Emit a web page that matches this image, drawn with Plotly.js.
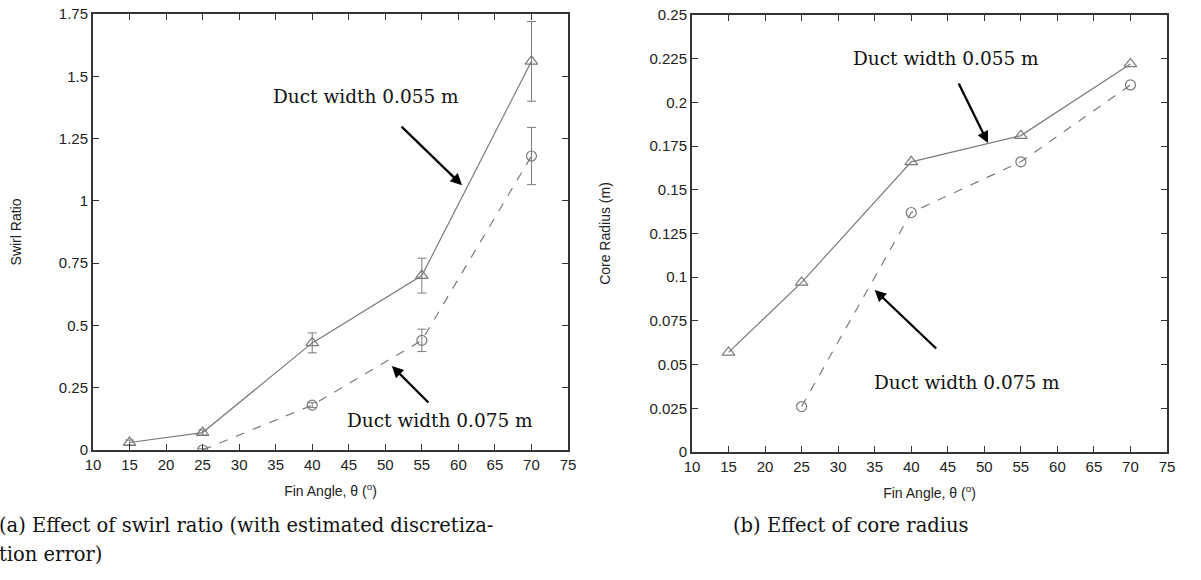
<!DOCTYPE html>
<html>
<head>
<meta charset="utf-8">
<script src="https://cdn.plot.ly/plotly-3.0.1.min.js"></script>
<style>html,body{margin:0;padding:0;background:#fff;}#chart{width:1201px;height:580px;}</style>
</head>
<body>
<div id="chart"></div>
<script>
// ---- data ----
const finAngle055 = [15, 25, 40, 55, 70];
const finAngle075 = [25, 40, 55, 70];
const swirl055 = [0.03, 0.07, 0.43, 0.70, 1.56];
const swirlErr055 = [0.01, 0.01, 0.04, 0.07, 0.16];
const swirl075 = [0.0, 0.18, 0.44, 1.18];
const swirlErr075 = [0.005, 0.01, 0.045, 0.115];
const core055 = [0.057, 0.097, 0.166, 0.181, 0.222];
const core075 = [0.026, 0.137, 0.166, 0.210];
const label055 = 'Duct width 0.055 m';
const label075 = 'Duct width 0.075 m';
const captionA1 = '(a) Effect of swirl ratio (with estimated discretiza-';
const captionA2 = 'tion error)';
const captionB = '(b) Effect of core radius';
const xTitle = 'Fin Angle, θ (<sup>o</sup>)';
const yTitleA = 'Swirl Ratio';
const yTitleB = 'Core Radius (m)';

const W = 1201, H = 580;
const px = v => v / W;
const py = v => (H - v) / H;
const lineCol = '#7a7a7a';

const traces = [
  {x: finAngle055, y: swirl055, xaxis: 'x', yaxis: 'y', mode: 'lines+markers',
   line: {color: lineCol, width: 1.2},
   marker: {symbol: 'triangle-up-open', size: 11, color: lineCol, line: {width: 1.2}},
   error_y: {type: 'data', array: swirlErr055, visible: true, color: lineCol, thickness: 1, width: 4.5}},
  {x: finAngle075, y: swirl075, xaxis: 'x', yaxis: 'y', mode: 'lines+markers',
   line: {color: lineCol, width: 1.2, dash: 'dash'},
   marker: {symbol: 'circle-open', size: 10, color: lineCol, line: {width: 1.2}},
   error_y: {type: 'data', array: swirlErr075, visible: true, color: lineCol, thickness: 1, width: 4.5}},
  {x: finAngle055, y: core055, xaxis: 'x2', yaxis: 'y2', mode: 'lines+markers',
   line: {color: lineCol, width: 1.2},
   marker: {symbol: 'triangle-up-open', size: 11, color: lineCol, line: {width: 1.2}}},
  {x: finAngle075, y: core075, xaxis: 'x2', yaxis: 'y2', mode: 'lines+markers',
   line: {color: lineCol, width: 1.2, dash: 'dash'},
   marker: {symbol: 'circle-open', size: 10, color: lineCol, line: {width: 1.2}}}
];

const axisCommon = {
  showline: true, linecolor: '#333', linewidth: 2, mirror: 'allticks',
  ticks: 'inside', ticklen: 6, tickcolor: '#333', tickwidth: 1,
  showgrid: false, zeroline: false,
  tickfont: {family: 'Liberation Sans, Arial, sans-serif', size: 15, color: '#222'}
};
const titleFont = {family: 'Liberation Sans, Arial, sans-serif', size: 14, color: '#222'};

const serif = 'DejaVu Serif, serif';
const annFont = {family: serif, size: 18.5, color: '#111'};
const capFont = {family: serif, size: 19.5, color: '#111'};
const arrowStyle = {showarrow: true, arrowhead: 2, arrowsize: 1, arrowwidth: 2.3, arrowcolor: '#000', text: ''};

const annotations = [
  // left plot labels
  {xref: 'x', yref: 'y', x: 47.3, y: 1.42, text: label055, showarrow: false, font: annFont, xanchor: 'center'},
  Object.assign({xref: 'x', yref: 'y', x: 60.5, y: 1.063, ax: -62, ay: -60}, arrowStyle),
  {xref: 'x', yref: 'y', x: 57.5, y: 0.12, text: label075, showarrow: false, font: annFont, xanchor: 'center'},
  Object.assign({xref: 'x', yref: 'y', x: 50.9, y: 0.337, ax: 38, ay: 38}, arrowStyle),
  // right plot labels
  {xref: 'x2', yref: 'y2', x: 44.8, y: 0.2254, text: label055, showarrow: false, font: annFont, xanchor: 'center'},
  Object.assign({xref: 'x2', yref: 'y2', x: 50.5, y: 0.1768, ax: -30, ay: -61}, arrowStyle),
  {xref: 'x2', yref: 'y2', x: 47.6, y: 0.040, text: label075, showarrow: false, font: annFont, xanchor: 'center'},
  Object.assign({xref: 'x2', yref: 'y2', x: 35.0, y: 0.0927, ax: 63, ay: 60}, arrowStyle),
  // captions
  {xref: 'paper', yref: 'paper', x: px(-3), y: py(525), xanchor: 'left', yanchor: 'middle', text: captionA1, showarrow: false, font: capFont},
  {xref: 'paper', yref: 'paper', x: px(-3), y: py(554), xanchor: 'left', yanchor: 'middle', text: captionA2, showarrow: false, font: capFont},
  {xref: 'paper', yref: 'paper', x: px(851), y: py(525), xanchor: 'center', yanchor: 'middle', text: captionB, showarrow: false, font: capFont}
];

const layout = {
  width: W, height: H,
  margin: {l: 0, r: 0, t: 0, b: 0},
  paper_bgcolor: '#fff', plot_bgcolor: '#fff',
  showlegend: false,
  xaxis: Object.assign({}, axisCommon, {domain: [px(93), px(568)], range: [10, 75], dtick: 5, tick0: 10,
    title: {text: xTitle, font: titleFont, standoff: 14}, anchor: 'y'}),
  yaxis: Object.assign({}, axisCommon, {domain: [py(450), py(14)], range: [0, 1.75], dtick: 0.25, tick0: 0,
    title: {text: yTitleA, font: titleFont, standoff: 34}, anchor: 'x'}),
  xaxis2: Object.assign({}, axisCommon, {domain: [px(692), px(1167)], range: [10, 75], dtick: 5, tick0: 10,
    title: {text: xTitle, font: titleFont, standoff: 14}, anchor: 'y2'}),
  yaxis2: Object.assign({}, axisCommon, {domain: [py(452), py(15)], range: [0, 0.25], dtick: 0.025, tick0: 0,
    title: {text: yTitleB, font: titleFont, standoff: 36}, anchor: 'x2'}),
  annotations: annotations
};

Plotly.newPlot('chart', traces, layout, {displayModeBar: false, staticPlot: true});
</script>
</body>
</html>
